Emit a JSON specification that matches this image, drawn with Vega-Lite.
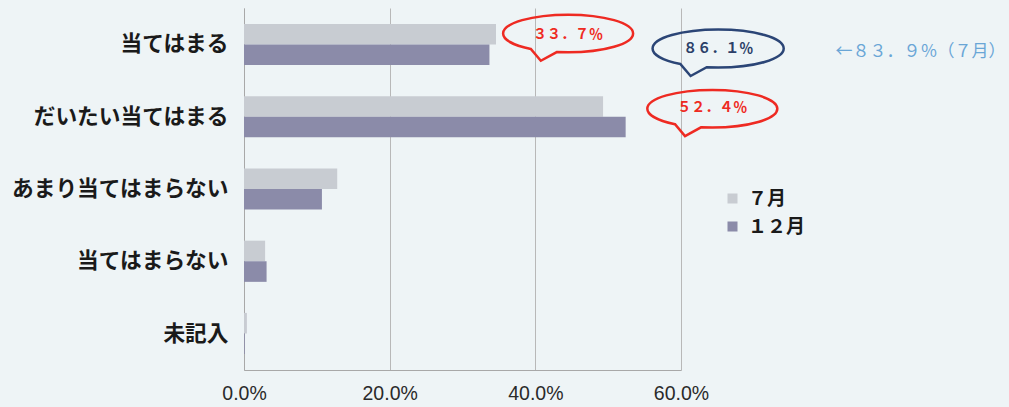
{
  "$schema": "https://vega.github.io/schema/vega-lite/v6.json",
  "width": 437,
  "height": 362,
  "autosize": {"type": "none"},
  "padding": {"left": 244, "top": 8, "right": 328, "bottom": 37},
  "background": "#eef4f6",
  "config": {"view": {"stroke": null}},
  "datasets": {
    "bars": [
      {"cat": "当てはまる", "month": "７月", "pct": 34.6},
      {"cat": "当てはまる", "month": "１２月", "pct": 33.7},
      {"cat": "だいたい当てはまる", "month": "７月", "pct": 49.3},
      {"cat": "だいたい当てはまる", "month": "１２月", "pct": 52.4},
      {"cat": "あまり当てはまらない", "month": "７月", "pct": 12.8},
      {"cat": "あまり当てはまらない", "month": "１２月", "pct": 10.7},
      {"cat": "当てはまらない", "month": "７月", "pct": 2.9},
      {"cat": "当てはまらない", "month": "１２月", "pct": 3.1},
      {"cat": "未記入", "month": "７月", "pct": 0.4},
      {"cat": "未記入", "month": "１２月", "pct": 0.1}
    ],
    "notes": [
      {"id": "n1", "cat": "当てはまる", "x": 44.5, "label": "３３．７％"},
      {"id": "n2", "cat": "当てはまる", "x": 65.1, "label": "８６．１％"},
      {"id": "n3", "cat": "だいたい当てはまる", "x": 64.3, "label": "５２．４％"},
      {"id": "n4", "cat": "当てはまる", "x": 92.9, "label": "←８３．９％（７月）"}
    ]
  },
  "encoding": {
    "y": {
      "field": "cat",
      "type": "nominal",
      "sort": ["当てはまる", "だいたい当てはまる", "あまり当てはまらない", "当てはまらない", "未記入"],
      "scale": {"domain": ["当てはまる", "だいたい当てはまる", "あまり当てはまらない", "当てはまらない", "未記入"], "paddingInner": 0.43, "paddingOuter": 0.22},
      "axis": {
        "title": null,
        "ticks": false,
        "domain": true,
        "domainColor": "#a8a8a8",
        "labelFont": "Noto Sans CJK JP",
        "labelFontSize": 21.7,
        "labelFontWeight": "bold",
        "labelColor": "#1a1a1a",
        "labelPadding": 16,
        "labelLimit": 400
      }
    }
  },
  "layer": [
    {
      "data": {"name": "bars"},
      "mark": {"type": "bar"},
      "encoding": {
        "x": {
          "field": "pct",
          "type": "quantitative",
          "scale": {"domain": [0, 60], "nice": false},
          "axis": {
            "title": null,
            "values": [0, 20, 40, 60],
            "labelExpr": "format(datum.value, '.1f') + '%'",
            "ticks": false,
            "labelFlush": false,
            "domainColor": "#a8a8a8",
            "gridColor": "#b8b8b8",
            "labelFont": "Liberation Sans",
            "labelFontSize": 19.5,
            "labelColor": "#2a2a2a",
            "labelPadding": 14
          }
        },
        "yOffset": {"field": "month", "type": "nominal", "sort": ["７月", "１２月"], "scale": {"paddingInner": 0, "paddingOuter": 0}},
        "color": {
          "field": "month",
          "type": "nominal",
          "sort": ["７月", "１２月"],
          "scale": {"domain": ["７月", "１２月"], "range": ["#c8ccd2", "#8b8ba9"]},
          "legend": {
            "title": null,
            "orient": "none",
            "legendX": 479,
            "legendY": 181,
            "symbolType": "square",
            "symbolSize": 100,
            "symbolStrokeWidth": 0,
            "labelFont": "Noto Sans CJK JP",
            "labelFontSize": 19,
            "labelFontWeight": "bold",
            "labelColor": "#1a1a1a",
            "labelOffset": 6,
            "rowPadding": 8
          }
        }
      }
    },
    {
      "data": {"name": "notes"},
      "transform": [{"filter": "datum.id === 'n1'"}],
      "mark": {"type": "point", "shape": "M-0.174,0.286L0,0.29C0.552,0.29,1,0.16,1,0C1,-0.16,0.552,-0.29,0,-0.29C-0.552,-0.29,-1,-0.16,-1,0C-1,0.095,-0.841,0.183,-0.574,0.238L-0.42,0.42Z", "filled": false, "stroke": "#ee2a22", "strokeWidth": 2.5, "opacity": 1, "size": 16900, "yOffset": -11},
      "encoding": {"x": {"field": "x", "type": "quantitative"}}
    },
    {
      "data": {"name": "notes"},
      "transform": [{"filter": "datum.id === 'n2'"}],
      "mark": {"type": "point", "shape": "M-0.174,0.286L0,0.29C0.552,0.29,1,0.16,1,0C1,-0.16,0.552,-0.29,0,-0.29C-0.552,-0.29,-1,-0.16,-1,0C-1,0.095,-0.841,0.183,-0.574,0.238L-0.42,0.42Z", "filled": false, "stroke": "#2b4576", "strokeWidth": 2.5, "opacity": 1, "size": 17200, "yOffset": 4},
      "encoding": {"x": {"field": "x", "type": "quantitative"}}
    },
    {
      "data": {"name": "notes"},
      "transform": [{"filter": "datum.id === 'n3'"}],
      "mark": {"type": "point", "shape": "M-0.174,0.286L0,0.29C0.552,0.29,1,0.16,1,0C1,-0.16,0.552,-0.29,0,-0.29C-0.552,-0.29,-1,-0.16,-1,0C-1,0.095,-0.841,0.183,-0.574,0.238L-0.42,0.42Z", "filled": false, "stroke": "#ee2a22", "strokeWidth": 2.5, "opacity": 1, "size": 16900, "yOffset": -8},
      "encoding": {"x": {"field": "x", "type": "quantitative"}}
    },
    {
      "data": {"name": "notes"},
      "transform": [{"filter": "datum.id === 'n1' || datum.id === 'n3'"}],
      "mark": {"type": "text", "font": "Noto Sans CJK JP", "fontSize": 14, "fontWeight": "bold", "color": "#ee2a22", "baseline": "middle", "align": "center", "yOffset": -9},
      "encoding": {"x": {"field": "x", "type": "quantitative"}, "text": {"field": "label"}}
    },
    {
      "data": {"name": "notes"},
      "transform": [{"filter": "datum.id === 'n2'"}],
      "mark": {"type": "text", "font": "Noto Sans CJK JP", "fontSize": 14, "fontWeight": "bold", "color": "#2b3f68", "baseline": "middle", "align": "center", "yOffset": 4.5},
      "encoding": {"x": {"field": "x", "type": "quantitative"}, "text": {"field": "label"}}
    },
    {
      "data": {"name": "notes"},
      "transform": [{"filter": "datum.id === 'n4'"}],
      "mark": {"type": "text", "font": "Noto Sans CJK JP", "fontSize": 17, "color": "#6aa6d6", "baseline": "middle", "align": "center", "yOffset": 7.5},
      "encoding": {"x": {"field": "x", "type": "quantitative"}, "text": {"field": "label"}}
    }
  ]
}
